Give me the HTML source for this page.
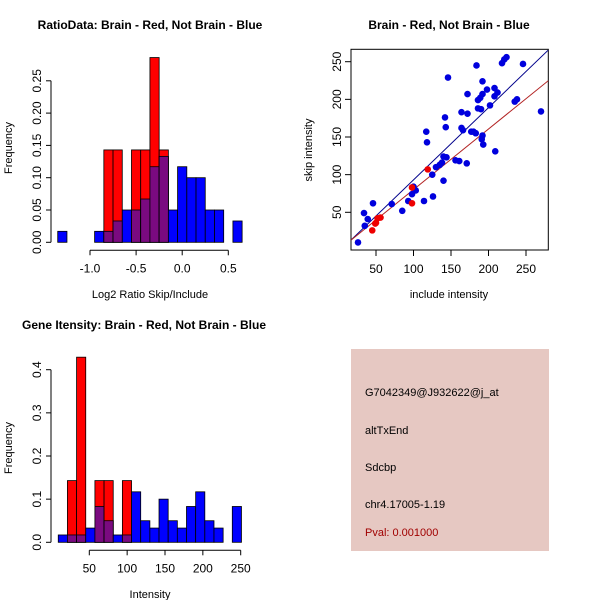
<!DOCTYPE html>
<html><head><meta charset="utf-8"><style>
html,body{margin:0;padding:0;background:#fff}
svg{display:block;font-family:"Liberation Sans",sans-serif}
</style></head><body>
<svg id="s" width="600" height="600" xmlns="http://www.w3.org/2000/svg">
<rect x="351" y="349" width="198" height="202" fill="#e6c8c2"/>
<text x="365" y="396" font-size="11">G7042349@J932622@j_at</text>
<text x="365" y="434" font-size="11">altTxEnd</text>
<text x="365" y="471" font-size="11">Sdcbp</text>
<text x="365" y="508" font-size="11">chr4.17005-1.19</text>
<text x="365" y="536" font-size="11" fill="#a00000">Pval: 0.001000</text>
</svg>
<script>
// ---- data ----
const ratioBinStart = -1.35, ratioBinWidth = 0.1;
const ratioBlue = [0.017,0,0,0,0.017,0.017,0.033,0.05,0.05,0.067,0.117,0.133,0.05,0.117,0.1,0.1,0.05,0.05,0,0.033];
const ratioRed  = [0,0,0,0,0,0.143,0.143,0,0.143,0.143,0.286,0.143,0,0,0,0,0,0,0,0];
const ratioXTicks = [-1.0,-0.5,0.0,0.5];
const ratioYTicks = [0,0.05,0.1,0.15,0.2,0.25];
const intBinStart = 9, intBinWidth = 12.1;
const intBlue = [0.017,0.017,0.017,0.033,0.083,0.05,0.017,0.017,0.117,0.05,0.033,0.1,0.05,0.033,0.083,0.117,0.05,0.033,0,0.083];
const intRed  = [0,0.143,0.429,0,0.143,0.143,0,0.143,0,0,0,0,0,0,0,0,0,0,0,0];
const intXTicks = [50,100,150,200,250];
const intYTicks = [0,0.1,0.2,0.3,0.4];
const blueInclude = [26,34,35,39,46,71,85,93,98,100,103,114,117,118,125,126,130,135,138,140,140,142,143,144,146,156,161,164,164,166,171,172,172,177,180,183,184,186,186,189,190,191,192,192,192,193,198,202,208,208,209,212,218,221,224,235,238,246,270];
const blueSkip    = [10,49,32,41,62,61,52,65,74,84,79,65,157,143,100,71,110,113,116,124,92,176,163,123,229,119,118,162,183,159,115,207,181,157,157,155,245,199,188,202,187,147,152,207,224,140,213,192,215,204,131,209,248,253,256,197,200,247,184];
const redInclude  = [45,49,50,52,56,98,98,119];
const redSkip     = [26,35,36,42,43,83,62,107];
const blueFit = [-2.8,0.959]; // intercept, slope
const redFit  = [-0.4,0.805];
const scatterXTicks = [50,100,150,200,250];
const scatterYTicks = [50,100,150,200,250];

const NS="http://www.w3.org/2000/svg", svg=document.getElementById('s');
function mk(tag,attrs,parent){const e=document.createElementNS(NS,tag);for(const k in attrs)e.setAttribute(k,attrs[k]);(parent||svg).appendChild(e);return e;}
function txt(x,y,s,size,extra){const e=mk('text',Object.assign({x:x,y:y,'font-size':size,'text-anchor':'middle'},extra||{}));e.textContent=s;return e;}
function fmt(v,d){return v.toFixed(d);}

function histogram(cfg){
  const X=v=>cfg.x0px+(v-cfg.x0)*cfg.xs, Y=v=>cfg.y0px-v*cfg.ys;
  const g=mk('g',{});
  
  
  for(let i=0;i<cfg.blue.length;i++){
    const a=cfg.binStart+i*cfg.binW, b=a+cfg.binW;
    const bl=cfg.blue[i], rd=cfg.red[i];
    const parts=[];
    if(bl>0) parts.push(['#0000ff',bl,'blue-bar']);
    if(rd>0) parts.push(['#ff0000',rd,'red-bar']);
    if(bl>0&&rd>0) parts.push(['#7a0a80',Math.min(bl,rd),'overlap-bar']);
    parts.forEach(p=>{
      const r=mk('rect',{x:X(a),y:Y(p[1]),width:X(b)-X(a),height:Y(0)-Y(p[1]),fill:p[0],stroke:'#000','stroke-width':0.8},g);
      
      
    });
  }
  // axes
  const xa=mk('g',{});
  
  
  const ay=cfg.y0px+8;
  mk('line',{x1:X(cfg.xt[0]),x2:X(cfg.xt[cfg.xt.length-1]),y1:ay,y2:ay,stroke:'#000'},xa);
  cfg.xt.forEach(t=>{mk('line',{x1:X(t),x2:X(t),y1:ay,y2:ay+5,stroke:'#000'},xa);const e=txt(X(t),ay+22,fmt(t,cfg.xd),12);xa.appendChild(e);});
  const ya=mk('g',{});
  
  
  mk('line',{x1:51,x2:51,y1:Y(cfg.yt[0]),y2:Y(cfg.yt[cfg.yt.length-1]),stroke:'#000'},ya);
  cfg.yt.forEach(t=>{mk('line',{x1:46,x2:51,y1:Y(t),y2:Y(t),stroke:'#000'},ya);const e=txt(0,0,fmt(t,cfg.yd),12,{transform:`translate(41,${Y(t)}) rotate(-90)`});ya.appendChild(e);});
}

histogram({name:'ratio-histogram',x0:-1,x0px:90,xs:92.2,y0px:242.3,ys:646,binStart:ratioBinStart,binW:ratioBinWidth,blue:ratioBlue,red:ratioRed,xt:ratioXTicks,yt:ratioYTicks,xd:1,yd:2});
histogram({name:'intensity-histogram',x0:50,x0px:89.3,xs:0.757,y0px:542.3,ys:431.5,binStart:intBinStart,binW:intBinWidth,blue:intBlue,red:intRed,xt:intXTicks,yt:intYTicks,xd:0,yd:1});

// scatter
const SX=v=>376+(v-50)*0.75, SY=v=>212.3-(v-50)*0.753;
mk('rect',{x:351,y:49.3,width:197.3,height:200.7,fill:'none',stroke:'#000'});
const cp=mk('clipPath',{id:'cp'});mk('rect',{x:351,y:49.3,width:197.3,height:200.7},cp);
[[blueFit,'#00008b','blue-fit-line'],[redFit,'#b22222','red-fit-line']].forEach(f=>{
  const xa=16.7,xb=279.7;
  const l=mk('line',{x1:SX(xa),y1:SY(f[0][0]+f[0][1]*xa),x2:SX(xb),y2:SY(f[0][0]+f[0][1]*xb),stroke:f[1],'clip-path':'url(#cp)'});
  
  
});
blueInclude.forEach((v,i)=>{const c=mk('circle',{cx:SX(v),cy:SY(blueSkip[i]),r:3.3,fill:'#0000dd'});
  
  });
redInclude.forEach((v,i)=>{const c=mk('circle',{cx:SX(v),cy:SY(redSkip[i]),r:3.3,fill:'#ee0000'});
  
  });
scatterXTicks.forEach(t=>{mk('line',{x1:SX(t),x2:SX(t),y1:250,y2:256,stroke:'#000'});txt(SX(t),273,String(t),12);});
scatterYTicks.forEach(t=>{mk('line',{x1:345,x2:351,y1:SY(t),y2:SY(t),stroke:'#000'});txt(0,0,String(t),12,{transform:`translate(341,${SY(t)}) rotate(-90)`});});

// titles & labels
txt(150,29,'RatioData: Brain - Red, Not Brain - Blue',12,{'font-weight':'bold'});
txt(449,29,'Brain - Red, Not Brain - Blue',12,{'font-weight':'bold'});
txt(144,329,'Gene Itensity: Brain - Red, Not Brain - Blue',12,{'font-weight':'bold'});
txt(150,298,'Log2 Ratio Skip/Include',11);
txt(449,298,'include intensity',11);
txt(150,598,'Intensity',11);
txt(0,0,'Frequency',11,{transform:'translate(12,148) rotate(-90)'});
txt(0,0,'skip intensity',11,{transform:'translate(312,150) rotate(-90)'});
txt(0,0,'Frequency',11,{transform:'translate(12,448) rotate(-90)'});
</script>
</body></html>
